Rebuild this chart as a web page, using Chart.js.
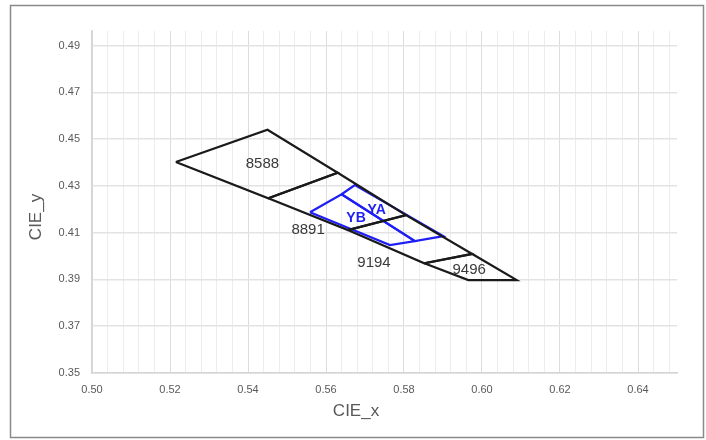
<!DOCTYPE html>
<html>
<head>
<meta charset="utf-8">
<script src="https://cdn.jsdelivr.net/npm/chart.js@4"></script>
<style>
  html, body { margin: 0; padding: 0; background: #fff; }
  #wrap { width: 706px; height: 440px; }
</style>
</head>
<body>
<div id="wrap"><canvas id="cie-chart"></canvas></div>
<script>
// ==================== data (CIE 1931 x,y corners of each bin)

const bin8588X = [0.5215, 0.5450, 0.5630, 0.5452];
const bin8588Y = [0.4402, 0.4540, 0.4356, 0.4247];
const bin8891X = [0.5452, 0.5630, 0.5805, 0.5656];
const bin8891Y = [0.4247, 0.4356, 0.4175, 0.4111];
const bin9194X = [0.5656, 0.5805, 0.5975, 0.5852];
const bin9194Y = [0.4111, 0.4175, 0.4009, 0.3969];
const bin9496X = [0.5852, 0.5975, 0.6089, 0.5965];
const bin9496Y = [0.3969, 0.4009, 0.3897, 0.3897];

const yaX = [0.5640, 0.5674, 0.5901, 0.5828];
const yaY = [0.4264, 0.4303, 0.4085, 0.4064];
const ybX = [0.5559, 0.5640, 0.5828, 0.5764];
const ybY = [0.4187, 0.4264, 0.4064, 0.4047];

const labelText = ['8588', '8891', '9194', '9496', 'YA', 'YB'];
const labelX = [0.5437, 0.5554, 0.5723, 0.5967, 0.5730, 0.5677];
const labelY = [0.4393, 0.4113, 0.3969, 0.3940, 0.4196, 0.4164];

const xTickLabels = ['0.50', '0.52', '0.54', '0.56', '0.58', '0.60', '0.62', '0.64'];
const yTickLabels = ['0.35', '0.37', '0.39', '0.41', '0.43', '0.45', '0.47', '0.49'];

// ==================== chart

const myCanvas = document.querySelector('#cie-chart');
myCanvas.width = 706;
myCanvas.height = 440;

const BLACK = '#1a1a1a';
const BLUE = '#1e1ef5';
const TEXT = '#595959';
const FONT = '"Liberation Sans Narrow", "Liberation Sans", Arial, sans-serif';

function polygon(xs, ys) {
    const pts = xs.map((x, i) => ({ x, y: ys[i] }));
    pts.push(pts[0]);
    return pts;
}

function outline(label, xs, ys, color) {
    return {
        label,
        data: polygon(xs, ys),
        showLine: true,
        borderColor: color,
        borderWidth: 2.2,
        pointRadius: 0,
        fill: false,
        tension: 0
    };
}

const isMajorX = v => xTickLabels.some(l => Math.abs(parseFloat(l) - v) < 1e-6);

const extras = {
    id: 'extras',
    beforeDraw(chart) {
        const c = chart.ctx;
        c.save();
        c.fillStyle = '#fff';
        c.fillRect(0, 0, chart.width, chart.height);
        c.strokeStyle = '#8a8a8a';
        c.lineWidth = 1.5;
        c.strokeRect(10.5, 5.5, 693, 432);
        c.restore();
    },
    afterDatasetsDraw(chart) {
        const c = chart.ctx;
        const xs = chart.scales.x;
        const ys = chart.scales.y;
        c.save();
        c.textAlign = 'center';
        c.textBaseline = 'middle';
        labelText.forEach((t, i) => {
            const blue = t.startsWith('Y');
            c.fillStyle = blue ? BLUE : '#3a3a3a';
            c.font = (blue ? 'bold 14px ' : '15px ') + '"Liberation Sans", Arial, sans-serif';
            c.fillText(t, xs.getPixelForValue(labelX[i]), ys.getPixelForValue(labelY[i]));
        });
        // axis titles
        c.fillStyle = TEXT;
        c.font = '17px ' + FONT;
        c.fillText('CIE_x', 356, 411);
        c.translate(36, 217);
        c.rotate(-Math.PI / 2);
        c.fillText('CIE_y', 0, 0);
        c.restore();
    }
};

const config = {
    type: 'scatter',
    data: {
        datasets: [
            outline('8588', bin8588X, bin8588Y, BLACK),
            outline('8891', bin8891X, bin8891Y, BLACK),
            outline('9194', bin9194X, bin9194Y, BLACK),
            outline('9496', bin9496X, bin9496Y, BLACK),
            outline('YA', yaX, yaY, BLUE),
            outline('YB', ybX, ybY, BLUE)
        ]
    },
    options: {
        responsive: false,
        animation: false,
        layout: { padding: { left: 30, right: 29, top: 31, bottom: 0 } },
        plugins: {
            legend: { display: false },
            tooltip: { enabled: false }
        },
        scales: {
            x: {
                type: 'linear',
                min: 0.5,
                max: 0.65,
                afterBuildTicks(scale) {
                    const ticks = [];
                    for (let k = 0; k <= 37; k++) ticks.push({ value: +(0.5 + k * 0.004).toFixed(3) });
                    scale.ticks = ticks;
                },
                afterFit(scale) { scale.height = 67; },
                ticks: {
                    autoSkip: false,
                    maxRotation: 0,
                    padding: 10,
                    color: TEXT,
                    font: { family: FONT, size: 11 },
                    callback(value) {
                        const l = xTickLabels.find(l => Math.abs(parseFloat(l) - value) < 1e-6);
                        return l || '';
                    }
                },
                grid: {
                    drawTicks: false,
                    color: ctx => isMajorX(ctx.tick.value) ? '#dcdcdc' : '#ededed',
                    lineWidth: 1
                },
                border: { color: '#d4d4d4', width: 1.5 }
            },
            y: {
                type: 'linear',
                min: 0.35,
                max: 0.4962,
                afterBuildTicks(scale) {
                    scale.ticks = yTickLabels.map(l => ({ value: parseFloat(l) }));
                },
                afterFit(scale) { scale.width = 62; },
                ticks: {
                    padding: 12,
                    color: TEXT,
                    font: { family: FONT, size: 11 },
                    callback(value) {
                        const l = yTickLabels.find(l => Math.abs(parseFloat(l) - value) < 1e-6);
                        return l || '';
                    }
                },
                grid: {
                    drawTicks: false,
                    color: '#e3e3e3',
                    lineWidth: 1.5
                },
                border: { color: '#d4d4d4', width: 1.5 }
            }
        }
    },
    plugins: [extras]
};

const myChart = new Chart(myCanvas, config);
</script>
</body>
</html>
